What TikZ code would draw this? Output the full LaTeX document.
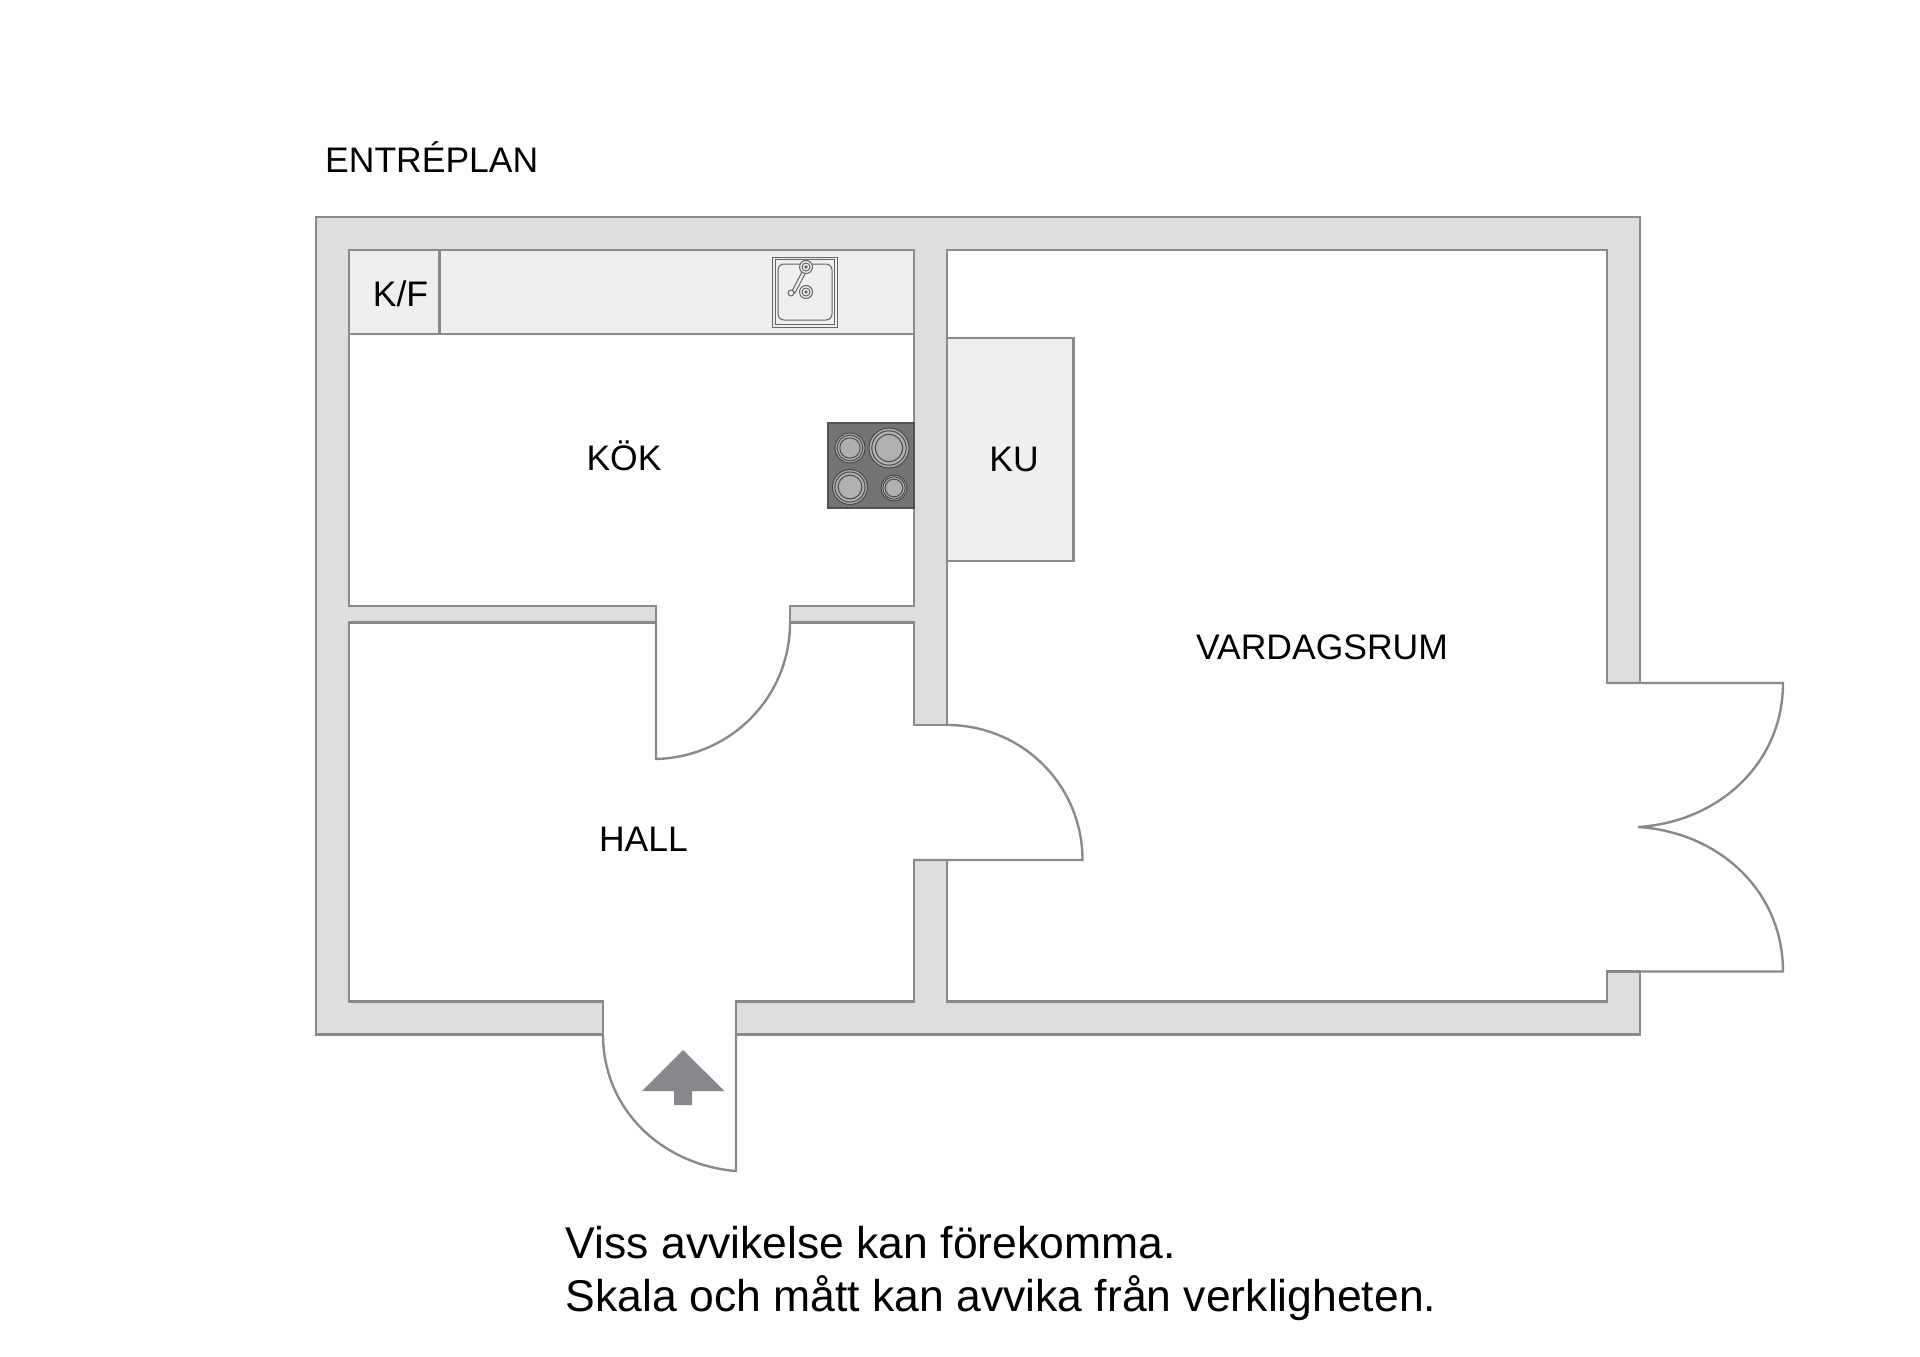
\documentclass[tikz,border=0pt]{standalone}
\usepackage{fontspec}
\setmainfont{Liberation Sans}
\definecolor{wallfill}{HTML}{DEDEDE}
\definecolor{wallline}{HTML}{8A8A8A}
\definecolor{counter}{HTML}{EFEFEF}
\definecolor{hob}{HTML}{747474}
\definecolor{hobline}{HTML}{484848}
\definecolor{plate}{HTML}{B0B0B0}
\definecolor{arrowgrey}{HTML}{87878C}
\tikzset{
  wall/.style={fill=wallfill,draw=wallline,line width=2.6pt,line join=miter},
  unit/.style={fill=counter,draw=wallline,line width=2.2pt},
  door/.style={draw=wallline,line width=2.4pt},
  sinkline/.style={draw=black!60,line width=1pt},
  ring/.style={draw=hobline,line width=1pt},
  roomlabel/.style={font=\fontsize{35.5pt}{40pt}\selectfont,anchor=base,inner sep=0pt,text=black},
  notelabel/.style={font=\fontsize{44.5pt}{53pt}\selectfont,anchor=base west,inner sep=0pt,text=black}
}
\newcommand{\burner}[3]{%
  \fill[plate,ring] (#1,#2) circle[radius=#3];
  \draw[ring,fill=plate] (#1,#2) circle[radius=0.86*#3];
  \draw[ring,fill=plate] (#1,#2) circle[radius=0.68*#3];
}
\begin{document}
\begin{tikzpicture}[x=1pt,y=-1pt]
\useasboundingbox[fill=white] (0,0) rectangle (1920,1357);
% counter and units
\draw[unit] (349,250) rectangle (914,334);
\draw[unit] (349,250) rectangle (439.5,334);
\draw[unit] (947,338) rectangle (1073.5,561);
% walls
\draw[wall] (316,217) -- (1640,217) -- (1640,683) -- (1607,683) -- (1607,250) -- (947,250) -- (947,725) -- (914,725) -- (914,622.5) -- (790,622.5) -- (790,606) -- (914,606) -- (914,250) -- (349,250) -- (349,606) -- (656,606) -- (656,622.5) -- (349,622.5) -- (349,1001.5) -- (603,1001.5) -- (603,1034.5) -- (316,1034.5) -- cycle;
\draw[wall] (914,860) -- (947,860) -- (947,1001.5) -- (1607,1001.5) -- (1607,971.5) -- (1640,971.5) -- (1640,1034.5) -- (736,1034.5) -- (736,1001.5) -- (914,1001.5) -- cycle;
% doors
\draw[door] (656,622.5) -- (656,759) .. controls (730,757) and (790,698) .. (790,622.5);
\draw[door] (914,860) -- (1082.5,860) .. controls (1082.5,785) and (1022,725) .. (947,725);
\draw[door] (736,1034.5) -- (736,1171) .. controls (662.5,1165) and (603,1110) .. (603,1034.5);
\draw[door] (1607,683) -- (1783,683) .. controls (1783,763) and (1719,822) .. (1638,827) .. controls (1719,832) and (1783,891) .. (1783,971.5) -- (1607,971.5);
% entrance arrow
\fill[arrowgrey] (683,1050) -- (724.5,1091) -- (692,1091) -- (692,1105) -- (674,1105) -- (674,1091) -- (642,1091) -- cycle;
% sink
\draw[sinkline] (772.5,257) rectangle (837,327);
\draw[sinkline] (775,259.5) rectangle (834.5,324.5);
\draw[sinkline,rounded corners=6pt] (778,264) rectangle (832,320);
\draw[sinkline,fill=counter] (792,291) -- (803,270) -- (806,272) -- (795,293) -- cycle;
\draw[sinkline,fill=counter] (791,293) circle[radius=3];
\draw[sinkline,fill=counter] (806,267) circle[radius=6.5];
\draw[sinkline] (806,267) circle[radius=4];
\draw[sinkline] (806,267) circle[radius=1.2];
\draw[sinkline,fill=counter] (806,292) circle[radius=6.5];
\draw[sinkline] (806,292) circle[radius=4];
\draw[sinkline] (806,292) circle[radius=1.2];
% hob
\draw[fill=hob,draw=hob!70!black,line width=1.5pt] (828,423) rectangle (914,508);
\burner{850}{448}{15}
\burner{889}{448}{20}
\burner{850}{487}{17.5}
\burner{894}{488}{13}
% labels
\node[roomlabel,anchor=base west] (title) at (325,172) {ENTRÉPLAN};
\node[roomlabel] (kf) at (400.5,306) {K/F};
\node[roomlabel] (kok) at (624,470) {KÖK};
\node[roomlabel] (ku) at (1014,471) {KU};
\node[roomlabel] (vardagsrum) at (1322,659) {VARDAGSRUM};
\node[roomlabel] (hall) at (643.5,851) {HALL};
\node[notelabel] (note1) at (565.5,1258) {Viss avvikelse kan förekomma.};
\node[notelabel] (note2) at (565.5,1311) {Skala och mått kan avvika från verkligheten.};
\end{tikzpicture}
\end{document}
